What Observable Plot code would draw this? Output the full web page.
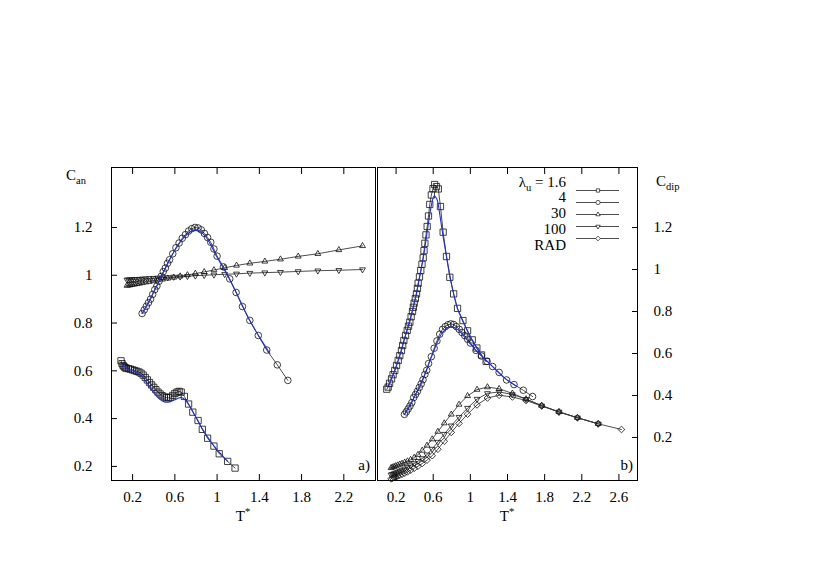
<!DOCTYPE html>
<html><head><meta charset="utf-8">
<script src="https://cdn.jsdelivr.net/npm/d3@7"></script>
<script src="https://cdn.jsdelivr.net/npm/@observablehq/plot@0.6"></script>
<style>
body{margin:0;background:#fff;}
#fig{position:relative;width:830px;height:587px;font-family:"Liberation Serif",serif;color:#000;overflow:hidden;}
#fig svg{position:absolute;left:0;top:0;}
.lbl{position:absolute;font-size:15px;line-height:15px;white-space:nowrap;}
.lbl sub{font-size:10.5px;vertical-align:-4px;line-height:0;}
.lbl sup{font-size:10.5px;vertical-align:6px;line-height:0;}
</style></head><body><div id="fig"></div>
<script>
// ---------- data ----------
const xTicksA = [0.2, 0.6, 1, 1.4, 1.8, 2.2];
const xTicksB = [0.2, 0.6, 1, 1.4, 1.8, 2.2, 2.6];
const yTicks = [0.2, 0.4, 0.6, 0.8, 1, 1.2];
const legendNames = ["1.6", "4", "30", "100", "RAD"];

// shared temperature grid of the lambda = 30, 100 and RAD runs
const tGrid = [0.146,0.161,0.178,0.196,0.217,0.240,0.265,0.293,0.323,0.357,0.395,0.436,0.482,0.533,0.589,0.650,0.719,0.794,0.878,0.970,1.072,1.184,1.310,1.452,1.600,1.768,1.954,2.153,2.377,2.627];

// panel a) C_an
const an16 = [[0.09,0.642],[0.10,0.630],[0.11,0.622],[0.12,0.617],[0.13,0.613],[0.14,0.611],[0.16,0.609],[0.18,0.607],[0.20,0.604],[0.22,0.601],[0.24,0.598],[0.26,0.595],[0.28,0.590],[0.30,0.582],[0.32,0.572],[0.34,0.562],[0.36,0.551],[0.38,0.541],[0.40,0.531],[0.42,0.521],[0.44,0.511],[0.46,0.503],[0.48,0.496],[0.50,0.491],[0.52,0.488],[0.54,0.487],[0.56,0.490],[0.58,0.497],[0.60,0.505],[0.62,0.511],[0.64,0.514],[0.66,0.511],[0.69,0.493],[0.73,0.461],[0.77,0.427],[0.82,0.392],[0.86,0.355],[0.91,0.318],[0.97,0.285],[1.02,0.253],[1.10,0.221],[1.17,0.193]];
const fit16a = [[0.10,0.627],[0.15,0.608],[0.20,0.600],[0.25,0.590],[0.30,0.572],[0.35,0.540],[0.40,0.510],[0.45,0.484],[0.50,0.470],[0.55,0.470],[0.60,0.479],[0.65,0.488],[0.68,0.485],[0.72,0.466],[0.77,0.430],[0.86,0.357],[0.97,0.286],[1.10,0.221]];
const an4 = [[0.29,0.84],[0.31,0.855],[0.33,0.87],[0.35,0.885],[0.37,0.90],[0.39,0.92],[0.41,0.94],[0.43,0.955],[0.45,0.975],[0.47,0.995],[0.49,1.015],[0.51,1.03],[0.53,1.05],[0.55,1.065],[0.58,1.09],[0.61,1.115],[0.64,1.135],[0.67,1.155],[0.70,1.17],[0.73,1.185],[0.76,1.195],[0.79,1.20],[0.82,1.198],[0.85,1.19],[0.88,1.175],[0.91,1.158],[0.94,1.138],[0.97,1.11],[1.00,1.08],[1.06,1.035],[1.12,0.985],[1.18,0.928],[1.24,0.869],[1.31,0.811],[1.39,0.748],[1.47,0.687],[1.57,0.625],[1.67,0.56]];
const fit4a = [[0.29,0.84],[0.40,0.93],[0.50,1.02],[0.60,1.105],[0.70,1.165],[0.79,1.19],[0.88,1.168],[1.00,1.075],[1.10,0.998],[1.20,0.91],[1.30,0.818],[1.40,0.742],[1.50,0.672]];
const an30 = [0.957,0.958,0.959,0.961,0.962,0.964,0.966,0.968,0.971,0.973,0.976,0.980,0.983,0.987,0.991,0.996,1.001,1.007,1.014,1.022,1.031,1.041,1.050,1.058,1.067,1.079,1.090,1.106,1.123];
const an100 = [0.981,0.981,0.982,0.982,0.983,0.983,0.984,0.985,0.986,0.987,0.988,0.989,0.990,0.991,0.993,0.994,0.996,0.998,1.000,1.002,1.004,1.006,1.009,1.011,1.013,1.016,1.019,1.021,1.024];

// panel b) C_dip
const dip16 = [[0.10,0.430],[0.115,0.440],[0.13,0.458],[0.151,0.479],[0.168,0.499],[0.186,0.519],[0.205,0.543],[0.223,0.567],[0.24,0.590],[0.258,0.614],[0.271,0.638],[0.284,0.662],[0.302,0.686],[0.32,0.710],[0.334,0.730],[0.348,0.749],[0.362,0.775],[0.377,0.800],[0.386,0.820],[0.395,0.840],[0.408,0.862],[0.42,0.884],[0.43,0.910],[0.438,0.935],[0.452,0.965],[0.466,0.995],[0.479,1.025],[0.492,1.056],[0.501,1.090],[0.51,1.125],[0.522,1.165],[0.535,1.205],[0.549,1.255],[0.563,1.310],[0.58,1.355],[0.598,1.385],[0.615,1.405],[0.635,1.395],[0.655,1.384],[0.678,1.300],[0.707,1.178],[0.743,1.062],[0.779,0.963],[0.82,0.884],[0.862,0.815],[0.92,0.757],[0.97,0.708],[1.02,0.665],[1.07,0.626],[1.12,0.593],[1.17,0.562]];
const fit16b = [[0.11,0.44],[0.2,0.537],[0.3,0.684],[0.4,0.848],[0.45,0.955],[0.5,1.075],[0.55,1.225],[0.58,1.305],[0.61,1.350],[0.64,1.335],[0.67,1.265],[0.70,1.175],[0.75,1.045],[0.80,0.925],[0.86,0.815],[0.92,0.752],[1.0,0.680],[1.1,0.605],[1.17,0.562]];
const dip4 = [[0.29,0.31],[0.31,0.322],[0.33,0.336],[0.35,0.35],[0.37,0.366],[0.39,0.39],[0.41,0.405],[0.43,0.42],[0.45,0.438],[0.47,0.455],[0.49,0.475],[0.51,0.50],[0.53,0.52],[0.55,0.552],[0.58,0.585],[0.61,0.625],[0.64,0.66],[0.67,0.692],[0.70,0.715],[0.73,0.728],[0.76,0.737],[0.79,0.741],[0.82,0.738],[0.85,0.728],[0.88,0.715],[0.91,0.70],[0.94,0.685],[0.97,0.668],[1.00,0.65],[1.06,0.615],[1.12,0.588],[1.18,0.563],[1.24,0.538],[1.31,0.51],[1.39,0.474],[1.47,0.452],[1.57,0.425],[1.67,0.395]];
const fit4b = [[0.29,0.31],[0.40,0.395],[0.50,0.49],[0.60,0.605],[0.70,0.700],[0.78,0.726],[0.86,0.715],[0.95,0.672],[1.05,0.620],[1.20,0.555],[1.35,0.490],[1.50,0.443]];
const dip30 = [0.055,0.058,0.061,0.064,0.068,0.072,0.076,0.081,0.087,0.094,0.104,0.118,0.138,0.162,0.192,0.228,0.268,0.310,0.357,0.398,0.428,0.440,0.432,0.410,0.383,0.352,0.322,0.294,0.265];
const dip100 = [0.022,0.025,0.028,0.031,0.035,0.040,0.045,0.051,0.058,0.066,0.076,0.087,0.100,0.118,0.145,0.178,0.216,0.256,0.297,0.340,0.383,0.410,0.417,0.405,0.382,0.351,0.322,0.294,0.265];
const dipRAD = [0.003,0.006,0.009,0.012,0.016,0.020,0.025,0.030,0.036,0.044,0.053,0.063,0.076,0.092,0.113,0.144,0.182,0.224,0.267,0.311,0.355,0.388,0.401,0.393,0.376,0.350,0.321,0.294,0.265,0.238];

// ---------- drawing ----------
const LINE = "#3a3a3a", MARK = "#111", BLUE = "#1f30e0";
const sym = {"1.6": ["square2", 0, 4.0], "4": ["circle", 0, 3.3], "30": ["triangle2", 0, 2.8], "100": ["triangle2", 180, 2.8], "RAD": ["diamond2", 0, 3.0]};
const X = d => d[0], Y = d => d[1];
const style = {fontFamily: "Liberation Serif, serif", fontSize: "15px", background: "transparent", overflow: "visible", color: "#000"};

function series(data, key) {
  const [s, rot, r] = sym[key];
  return [
    Plot.line(data, {x: X, y: Y, stroke: LINE, strokeWidth: 0.9}),
    Plot.dot(data, {x: X, y: Y, symbol: s, rotate: rot, r, stroke: MARK, strokeWidth: 0.8, fill: "none"})
  ];
}
const fit = data => Plot.line(data, {x: X, y: Y, stroke: BLUE, strokeWidth: 1.1, curve: "catmull-rom"});
const fmt = d => String(d);

const left = Plot.plot({
  width: 830, height: 587,
  marginLeft: 111, marginRight: 455, marginTop: 167, marginBottom: 107,
  x: {domain: [0, 2.5], axis: null}, y: {domain: [0.141, 1.451], axis: null},
  style,
  marks: [
    ...series(an100.map((c, i) => [tGrid[i], c]), "100"),
    ...series(an30.map((c, i) => [tGrid[i], c]), "30"),
    ...series(an4, "4"),
    ...series(an16, "1.6"),
    fit(fit4a), fit(fit16a),
    Plot.frame({stroke: "#000", strokeWidth: 1}),
    Plot.axisX(xTicksA, {anchor: "bottom", tickSize: -6, tickPadding: 17, tickFormat: fmt}),
    Plot.axisX(xTicksA, {anchor: "top", tickSize: -6, tickFormat: () => ""}),
    Plot.axisY(yTicks, {anchor: "left", tickSize: -6, tickPadding: 25, tickFormat: fmt})
  ]
});

const right = Plot.plot({
  width: 830, height: 587,
  marginLeft: 377, marginRight: 193, marginTop: 167, marginBottom: 107,
  x: {domain: [0, 2.8], axis: null}, y: {domain: [-0.005, 1.486], axis: null},
  style,
  marks: [
    ...series(dipRAD.map((c, i) => [tGrid[i], c]), "RAD"),
    ...series(dip100.map((c, i) => [tGrid[i], c]), "100"),
    ...series(dip30.map((c, i) => [tGrid[i], c]), "30"),
    ...series(dip4, "4"),
    ...series(dip16, "1.6"),
    fit(fit4b), fit(fit16b),
    Plot.frame({stroke: "#000", strokeWidth: 1}),
    Plot.axisX(xTicksB, {anchor: "bottom", tickSize: -6, tickPadding: 17, tickFormat: fmt}),
    Plot.axisX(xTicksB, {anchor: "top", tickSize: -6, tickFormat: () => ""}),
    Plot.axisY(yTicks, {anchor: "right", tickSize: -6, tickPadding: 22, tickFormat: fmt})
  ]
});

// legend samples (lines + small markers) drawn with Plot scales
const legendMarks = [Plot.ruleY(legendNames, {y: d => d, x1: 0, x2: 1, stroke: LINE, strokeWidth: 0.9})];
for (const k of legendNames) {
  const [s, rot] = sym[k];
  legendMarks.push(Plot.dot([k], {x: 0.5, y: d => d, symbol: s, rotate: rot, r: 2.1, stroke: MARK, strokeWidth: 0.7, fill: "white"}));
}
const legend = Plot.plot({
  width: 830, height: 587,
  x: {domain: [0, 1], range: [576, 619], axis: null},
  y: {type: "point", domain: legendNames, range: [182, 245], axis: null},
  style, marks: legendMarks
});

const fig = document.getElementById("fig");
fig.append(left, right, legend);

// text labels
function label(html, css) {
  const d = document.createElement("div");
  d.className = "lbl"; d.innerHTML = html;
  Object.assign(d.style, css);
  fig.append(d);
}
label("C<sub>an</sub>", {left: "66px", top: "168px"});
label("C<sub>dip</sub>", {left: "656px", top: "174px"});
label("T<sup>*</sup>", {left: "243px", top: "509px", transform: "translateX(-50%)"});
label("T<sup>*</sup>", {left: "507px", top: "509px", transform: "translateX(-50%)"});
label("a)", {right: (830 - 370) + "px", top: "458px"});
label("b)", {right: (830 - 633) + "px", top: "458px"});
const legTexts = ["λ<sub>u</sub> = 1.6", "4", "30", "100", "RAD"];
const legY = [182, 197.75, 213.5, 229.25, 245];
legTexts.forEach((t, i) => label(t, {right: (830 - 566) + "px", top: (legY[i] - 7.5) + "px", textAlign: "right"}));
</script></body></html>
